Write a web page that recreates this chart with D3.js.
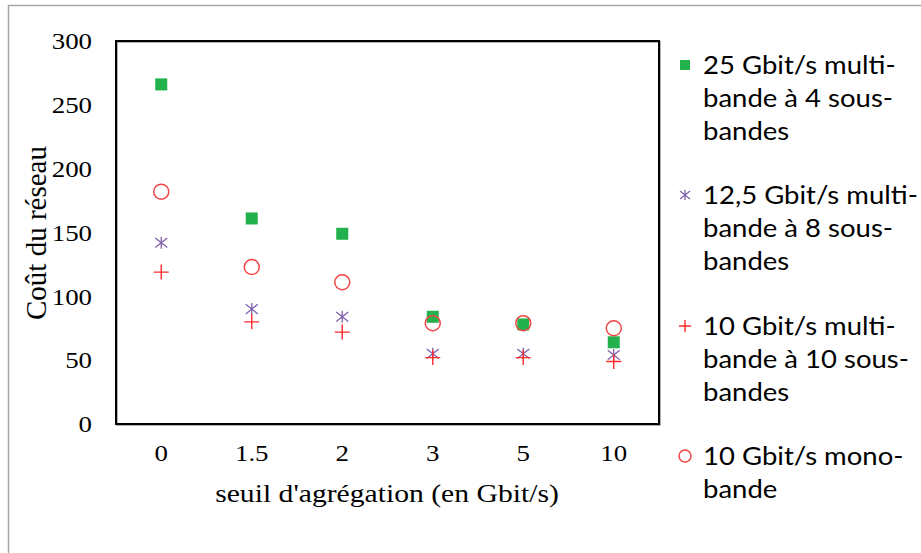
<!DOCTYPE html>
<html><head><meta charset="utf-8">
<script src="https://cdn.jsdelivr.net/npm/d3@7"></script>
<style>body{margin:0;background:#fff;}svg{display:block;}
.serif{font-family:"Liberation Serif","Times New Roman",serif;}
.leg{font-family:Lato,Carlito,"Open Sans",sans-serif;}
</style>
</head><body>
<svg id="c" width="921" height="553"></svg>
<script>
const categories = ["0", "1.5", "2", "3", "5", "10"];
const yTicks = [0, 50, 100, 150, 200, 250, 300];
const s25 = [266, 161, 149, 84, 78, 64];
const s125 = [142, 90, 84, 55, 55, 54];
const s10multi = [119, 80, 72, 52, 52, 49];
const s10mono = [182, 123, 111, 79, 79, 75];
const seriesNames = [
  ["25 Gbit/s multi-", "bande à 4 sous-", "bandes"],
  ["12,5 Gbit/s multi-", "bande à 8 sous-", "bandes"],
  ["10 Gbit/s multi-", "bande à 10 sous-", "bandes"],
  ["10 Gbit/s mono-", "bande"]
];

const svg = d3.select("#c");
const L = 116, T = 41, R = 659, B = 424;
const x = d3.scaleBand().domain(categories).range([L, R]);
const y = d3.scaleLinear().domain([0, 300]).range([B, T]);

function stretch(sel, k) {
  sel.each(function () {
    const len = this.getComputedTextLength();
    d3.select(this).attr("textLength", len * k).attr("lengthAdjust", "spacingAndGlyphs");
  });
}

svg.append("rect").attr("x", 8.5).attr("y", 5.5).attr("width", 1000).attr("height", 1000)
  .attr("fill", "none").attr("stroke", "#a6a6a6").attr("stroke-width", 1.5);

svg.append("rect").attr("x", L + 1).attr("y", T + 1).attr("width", R - L).attr("height", B - T)
  .attr("fill", "none").attr("stroke", "#999").attr("stroke-width", 1.5);
svg.append("rect").attr("x", L).attr("y", T).attr("width", R - L).attr("height", B - T)
  .attr("fill", "none").attr("stroke", "#000").attr("stroke-width", 2);

const yAxis = d3.axisLeft(y).tickValues(yTicks).tickSize(0).tickPadding(24);
const gy = svg.append("g").attr("transform", `translate(${L},0)`).call(yAxis);
gy.attr("font-family", null).attr("font-size", null).attr("class", "serif");
gy.select(".domain").remove();
gy.selectAll("text").style("font-size", "24px").attr("fill", "#000").call(stretch, 1.12);

const xAxis = d3.axisBottom(x).tickSize(0).tickPadding(20);
const gx = svg.append("g").attr("transform", `translate(0,${B})`).call(xAxis);
gx.attr("font-family", null).attr("font-size", null).attr("class", "serif");
gx.select(".domain").remove();
gx.selectAll("text").style("font-size", "24px").attr("fill", "#000").call(stretch, 1.12);

svg.append("text").attr("class", "serif").attr("x", 387).attr("y", 502).attr("text-anchor", "middle")
  .style("font-size", "26px").text("seuil d'agrégation (en Gbit/s)").call(stretch, 1.14);
svg.append("text").attr("class", "serif").attr("transform", "translate(46,233) rotate(-90)").attr("text-anchor", "middle")
  .style("font-size", "29px").text("Coût du réseau");

const cx = i => x(categories[i]) + x.bandwidth() / 2;
const green = "#22b14c", purple = "#7f62ad", red = "#ff2a2a", redc = "#f24444";

function square(g, px, py, s) {
  g.append("rect").attr("x", px - s / 2).attr("y", py - s / 2).attr("width", s).attr("height", s).attr("fill", green);
}
function star(g, px, py, r) {
  const p = d3.path();
  p.moveTo(px - r, py - r * 0.8); p.lineTo(px + r, py + r * 0.8);
  p.moveTo(px - r, py + r * 0.8); p.lineTo(px + r, py - r * 0.8);
  p.moveTo(px, py - r); p.lineTo(px, py + r);
  g.append("path").attr("d", p.toString()).attr("stroke", purple).attr("stroke-width", 1.3).attr("fill", "none");
}
function plus(g, px, py, r) {
  const p = d3.path();
  p.moveTo(px - r, py); p.lineTo(px + r, py);
  p.moveTo(px, py - r); p.lineTo(px, py + r);
  g.append("path").attr("d", p.toString()).attr("stroke", red).attr("stroke-width", 1.4).attr("fill", "none");
}
function circ(g, px, py, r) {
  g.append("circle").attr("cx", px).attr("cy", py).attr("r", r).attr("fill", "none").attr("stroke", redc).attr("stroke-width", 1.5);
}

const gm = svg.append("g");
s25.forEach((v, i) => square(gm, cx(i), y(v), 12));
s125.forEach((v, i) => star(gm, cx(i), y(v), 6));
s10multi.forEach((v, i) => plus(gm, cx(i), y(v), 7.5));
s10mono.forEach((v, i) => circ(gm, cx(i), y(v), 7.5));

const lg = svg.append("g");
const legY = [65, 195, 326, 456];
const markers = [
  (py) => square(lg, 685, py, 10),
  (py) => star(lg, 685, py, 5),
  (py) => plus(lg, 685, py, 6),
  (py) => circ(lg, 685, py, 6)
];
seriesNames.forEach((lines, k) => {
  markers[k](legY[k]);
  lines.forEach((t, j) => {
    lg.append("text").attr("class", "leg").attr("x", 703).attr("y", legY[k] + 9 + j * 33)
      .style("font-size", "25px").attr("fill", "#000").text(t).call(stretch, 1.1);
  });
});
</script>
</body></html>
